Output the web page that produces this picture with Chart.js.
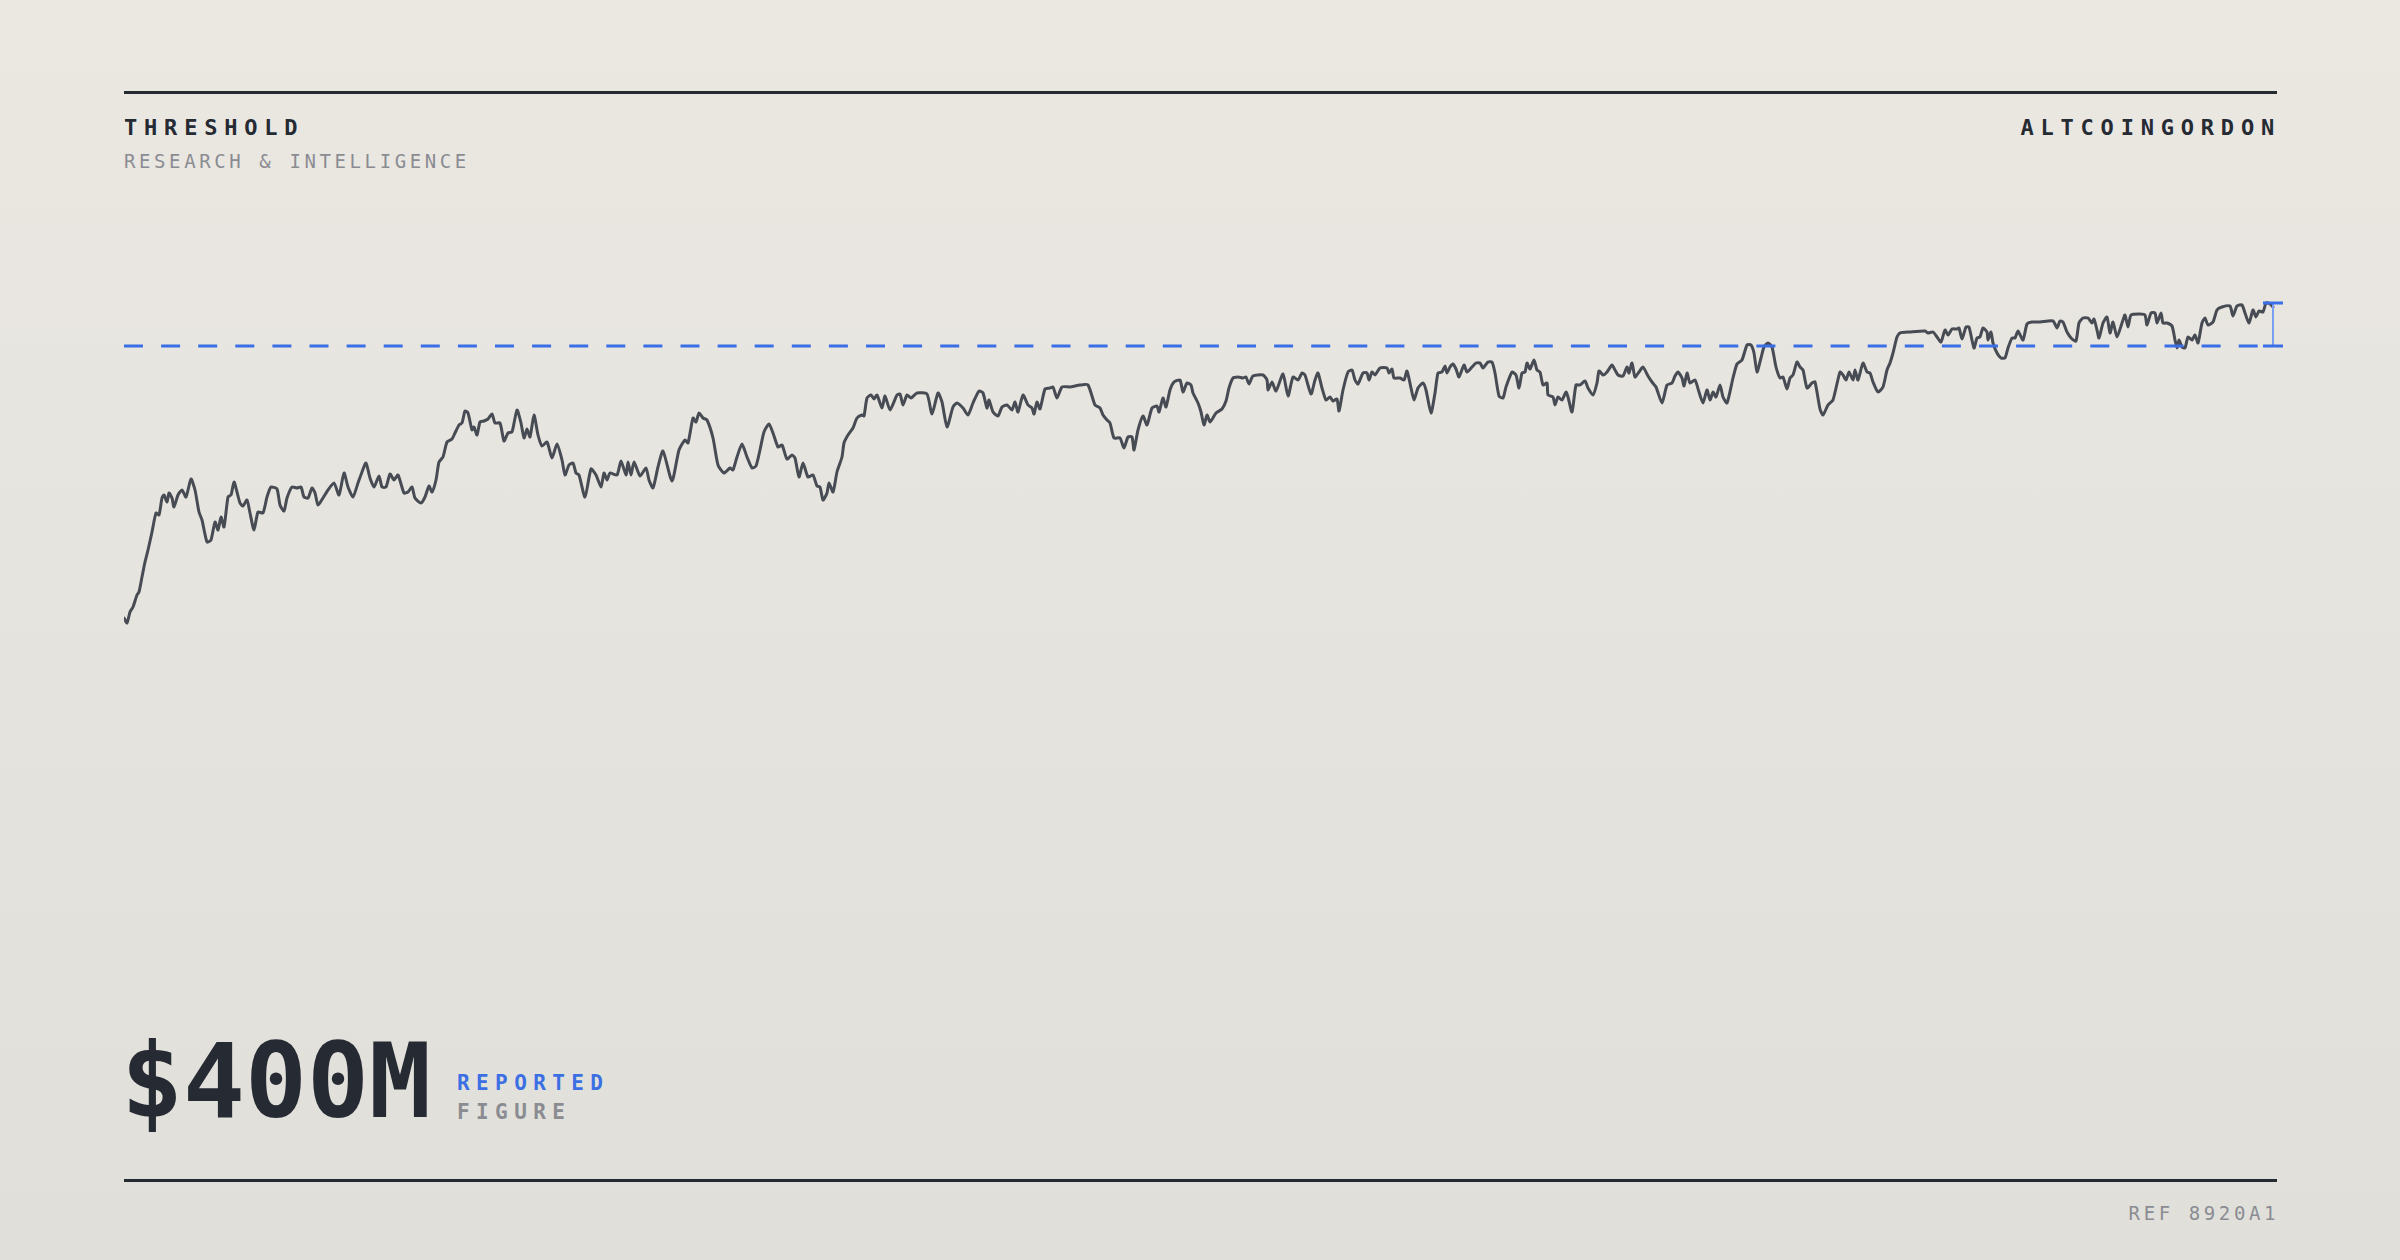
<!DOCTYPE html>
<html>
<head>
<meta charset="utf-8">
<script src="https://cdn.jsdelivr.net/npm/chart.js@4.4.0/dist/chart.umd.min.js"></script>
<style>
  html, body { margin: 0; padding: 0; }
  body {
    width: 2400px; height: 1260px; overflow: hidden; position: relative;
    background: linear-gradient(#ebe8e2, #e0dfda);
    font-family: "DejaVu Sans Mono", "Liberation Mono", monospace;
  }
  .rule { position: absolute; left: 124px; width: 2153px; height: 3px; background: #262a33; }
  .t { position: absolute; line-height: 1; white-space: nowrap; }
  .brand { font-size: 22px; font-weight: bold; letter-spacing: 6.8px; color: #262a33; }
  .sub { font-size: 19px; letter-spacing: 3.6px; color: #8a8c92; }
  .big { font-size: 103px; font-weight: bold; letter-spacing: 0; color: #262a33; }
  .tag { font-size: 21px; font-weight: bold; letter-spacing: 6.4px; }
  #chart { position: absolute; left: 124px; top: 250px; }
</style>
</head>
<body>
<div class="rule" style="top:91px"></div>
<div class="t brand" style="left:124px;top:117px">THRESHOLD</div>
<div class="t sub" style="left:124px;top:152px">RESEARCH &amp; INTELLIGENCE</div>
<div class="t brand" style="right:119px;top:117px">ALTCOINGORDON</div>

<canvas id="chart" width="2160" height="450"></canvas>

<div class="t big" style="left:121px;top:1030px">$400M</div>
<div class="t tag" style="left:457px;top:1073px;color:#3b6fe3">REPORTED</div>
<div class="t tag" style="left:457px;top:1102px;color:#8a8c92">FIGURE</div>
<div class="rule" style="top:1179px"></div>
<div class="t sub" style="right:121px;top:1204px">REF 8920A1</div>

<script>
const days = [
  0,3,6,9,13,15,18,21,24,28,32,35,38,40,43,45,48,50,54,58,62,67,71,75,78,83,87,91,94,97,
  100,104,107,110,113,116,119,123,126,130,134,139,143,147,153,156,160,163,168,173,177,180,184,188,191,194,199,204,210,215,
  220,224,229,234,238,242,246,250,255,258,262,266,270,274,280,284,288,291,297,301,305,308,312,315,319,323,328,331,335,338,
  341,344,348,350,353,356,360,364,368,371,376,380,384,388,393,397,400,403,406,410,414,418,423,428,433,438,
  441,445,449,452,455,461,467,472,477,480,483,486,493,497,502,504,507,510,516,522,525,529,534,539,548,555,561,564,569,572,
  575,579,583,589,594,600,606,609,613,618,623,628,632,636,640,645,649,654,658,663,668,671,675,679,684,689,693,696,699,703,
  705,709,713,718,720,724,729,733,738,740,743,747,750,753,758,761,766,773,776,779,783,787,793,803,808,814,818,823,829,833,
  839,844,849,855,859,863,865,869,874,878,
  883,888,891,894,899,904,908,910,913,916,921,926,929,933,938,946,956,964,971,976,979,983,986,990,996,1000,1004,1008,1010,1014,
  1019,1023,1028,1033,1035,1039,1042,1046,1050,1056,1059,1063,1067,1069,1074,1077,1080,1083,1086,1092,
  1098,1102,1105,1109,1114,1119,1122,1125,1129,1139,1143,1144,1148,1152,1159,1164,1169,1174,1178,1181,
  1187,1191,1194,1198,1202,1206,1209,1213,1215,1219,1224,1228,1231,1234,1239,1243,1245,1248,1251,1256,
  1263,1265,1268,1270,1276,1280,1283,1287,1290,1294,1299,1302,1307,1311,1314,1318,1321,
  1323,1326,1329,1332,1335,1340,1343,1348,1352,1356,1359,1364,1368,1371,1375,1379,1382,1388,1392,1395,
  1398,1401,1403,1406,1410,1413,1416,1419,1423,1424,1429,1431,1434,1438,1442,1444,1448,1452,1456,1461,
  1464,1469,1473,1475,1479,1483,1488,1491,1494,1499,1503,1505,1508,1511,1515,1519,1524,1528,1532,1538,
  1543,1548,1551,1554,1558,1560,1563,1566,1571,1575,1579,1583,1586,1589,1592,1596,1599,1603,1609,1613,
  1618,1623,1627,1630,1633,1637,1640,1644,1648,1652,1656,1659,1663,1666,1669,1673,1676,1679,1683,1688,
  1691,1696,1699,1704,1709,1716,1719,1722,1725,1729,1731,1734,1739,1743,1746,1749,1754,1759,
  1763,1766,1769,1773,1776,1786,1801,1804,1809,1813,1817,1821,1824,1828,1833,1835,1838,1842,1845,1850,
  1853,1856,1859,1863,1864,1867,1869,1873,1877,1881,1884,1888,1891,1894,1899,1903,1908,1916,1929,1933,
  1936,1939,1943,1948,1952,1955,1959,1964,1968,1970,1973,1975,1979,1983,1986,1989,1993,1998,2001,2004,
  2007,2016,2021,2023,2027,2031,2033,2037,2039,2043,2048,2051,2053,2055,2058,2061,2064,2068,2071,2074,
  2078,2081,2084,2089,2093,2098,2106,2109,2113,2118,2121,2125,2129,2132,2135,2139,2142,2146,2149
];

const values = [
  128,123,134,139,151,154,169,184,196,214,233,231,248,251,244,253,248,239,251,256,249,267,256,234,226,204,206,224,216,229,
  219,249,251,264,254,243,240,246,233,216,234,233,249,259,257,241,235,248,259,258,259,249,248,258,253,241,248,256,263,251,
  273,259,249,263,274,283,268,259,270,259,259,272,266,271,253,254,259,248,243,249,260,254,266,284,289,304,307,313,321,323,
  335,333,316,319,311,324,325,327,332,323,323,305,313,314,336,323,308,317,309,331,311,300,304,288,302,286,
  271,281,283,273,271,249,277,271,259,273,266,273,271,285,271,284,271,284,270,278,266,258,279,295,265,296,306,303,328,324,
  333,328,326,308,281,273,278,276,289,302,289,278,280,296,314,322,313,299,301,287,291,288,269,283,269,271,260,259,246,253,
  263,254,274,289,303,311,318,328,331,330,348,351,347,351,338,350,336,351,352,341,351,348,353,352,332,353,344,319,339,343,
  338,331,343,355,353,338,346,334,330,339,
  341,336,344,334,351,341,338,332,344,337,357,358,359,348,359,359,361,361,341,338,331,326,323,308,308,298,309,309,296,316,
  330,321,338,340,334,348,339,356,364,366,354,363,361,353,343,334,321,331,324,333,
  337,345,358,368,369,368,369,362,370,371,366,356,364,355,372,350,369,366,373,371,
  352,366,373,358,346,349,345,347,335,356,374,376,366,362,373,373,366,374,371,378,
  378,373,377,368,368,366,375,358,346,358,363,356,333,353,373,374,380,
  373,379,382,377,369,381,374,379,383,383,378,384,384,373,350,348,359,374,371,358,
  373,374,383,377,386,376,374,361,363,351,349,341,349,346,354,349,334,361,361,365,
  358,351,363,375,371,374,381,376,371,370,379,373,383,369,374,379,370,364,359,343,
  361,363,370,374,368,360,373,363,366,354,343,356,346,354,349,361,349,343,368,382,
  386,401,401,393,374,388,399,403,399,379,368,369,357,368,371,384,379,376,358,363,
  364,337,331,341,346,374,371,366,374,366,376,366,383,374,373,364,354,359,
  376,383,393,409,413,414,415,413,414,409,404,416,411,417,417,418,407,419,419,398,
  408,409,418,414,406,414,403,393,388,388,398,408,408,415,406,422,424,424,425,418,
  425,424,414,407,405,423,428,428,423,427,416,408,423,429,413,424,409,423,431,419,
  431,432,431,421,433,433,423,433,423,423,420,406,398,406,399,398,409,406,411,403,
  423,428,421,424,436,439,440,430,440,441,433,423,436,429,435,434,443,442,439
];

const threshold = 400;
const dayRange = [0, 2160];
const valueRange = [46, 496];

// dashed threshold line plus the bracket from threshold up to the peak
const thresholdPlugin = {
  id: "threshold",
  afterDatasetsDraw(chart) {
    const { ctx, chartArea, scales } = chart;
    const yT = scales.y.getPixelForValue(threshold);
    const lastDay = days[days.length - 1];
    const yP = scales.y.getPixelForValue(Math.max(...values));
    const xE = scales.x.getPixelForValue(lastDay);
    const capL = scales.x.getPixelForValue(lastDay - 10);
    const capR = scales.x.getPixelForValue(lastDay + 10);

    ctx.save();
    ctx.strokeStyle = "#3a6ee6";
    ctx.lineWidth = 3;
    ctx.setLineDash([19, 18.1]);
    ctx.beginPath();
    ctx.moveTo(chartArea.left, yT);
    ctx.lineTo(capL, yT);
    ctx.stroke();
    ctx.setLineDash([]);

    ctx.strokeStyle = "#7a9ff0";
    ctx.lineWidth = 2;
    ctx.beginPath();
    ctx.moveTo(xE, yP);
    ctx.lineTo(xE, yT);
    ctx.stroke();

    ctx.strokeStyle = "#3a6ee6";
    ctx.lineWidth = 3;
    ctx.beginPath();
    ctx.moveTo(capL, yP);
    ctx.lineTo(capR, yP);
    ctx.moveTo(capL, yT);
    ctx.lineTo(capR, yT);
    ctx.stroke();
    ctx.restore();
  }
};

new Chart(document.getElementById("chart"), {
  type: "line",
  data: {
    datasets: [{
      data: days.map((d, i) => ({ x: d, y: values[i] })),
      borderColor: "#474b54",
      borderWidth: 3,
      borderJoinStyle: "round",
      borderCapStyle: "round",
      tension: 0.2,
      pointRadius: 0,
      fill: false
    }]
  },
  options: {
    responsive: false,
    animation: false,
    devicePixelRatio: 1,
    layout: { padding: 0 },
    plugins: { legend: { display: false }, tooltip: { enabled: false } },
    scales: {
      x: { type: "linear", display: false, min: dayRange[0], max: dayRange[1] },
      y: { type: "linear", display: false, min: valueRange[0], max: valueRange[1] }
    }
  },
  plugins: [thresholdPlugin]
});
</script>
</body>
</html>
